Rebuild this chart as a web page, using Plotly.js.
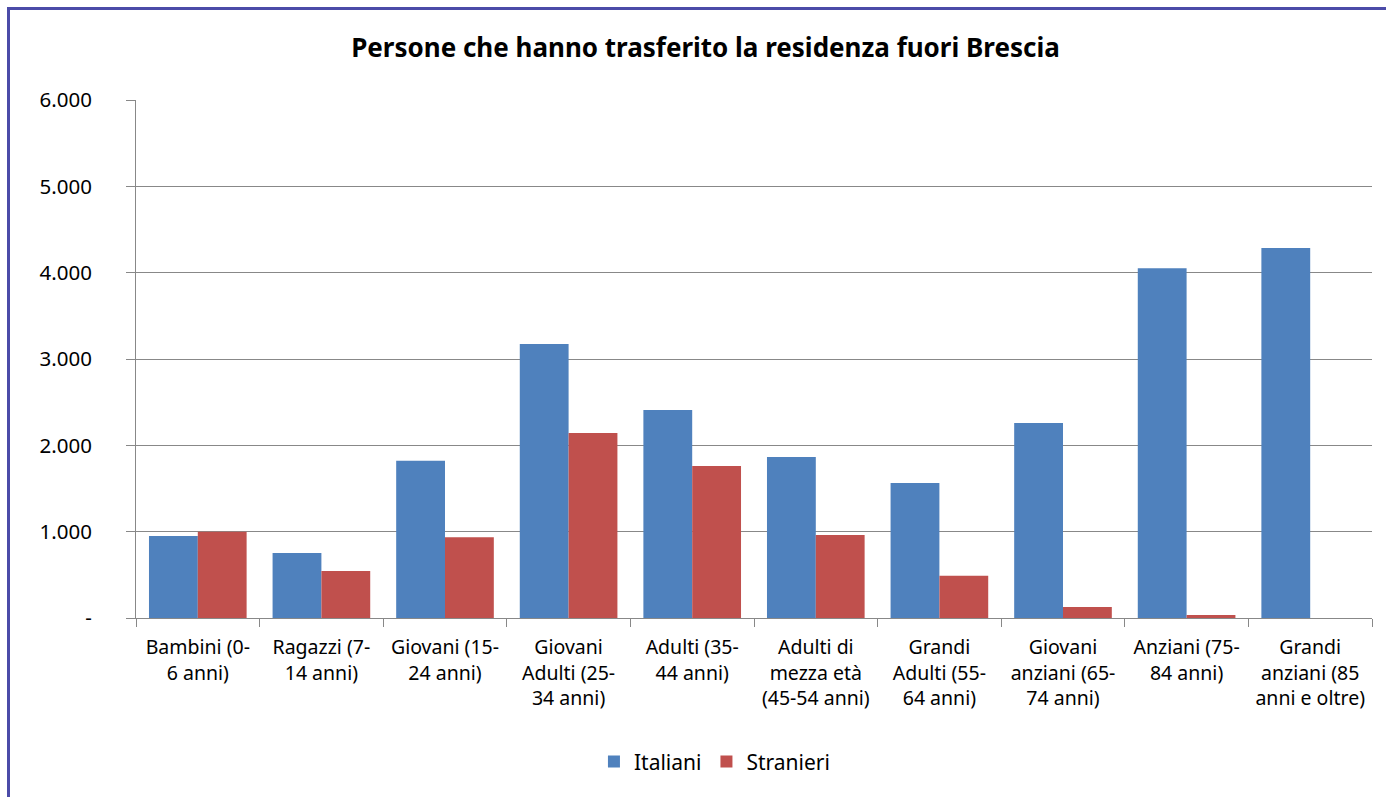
<!DOCTYPE html>
<html>
<head>
<meta charset="utf-8">
<script src="https://cdn.plot.ly/plotly-3.0.1.min.js"></script>
<style>
html,body{margin:0;padding:0;background:#fff;}
#frame{position:absolute;left:7px;top:7px;width:1379px;height:790px;border-left:3px solid #4b4ba8;border-top:3px solid #4b4ba8;box-sizing:border-box;}
#chart{position:absolute;left:0;top:0;width:1386px;height:797px;}
</style>
</head>
<body>
<div id="chart"></div>
<div id="frame"></div>
<script>
const categories = [
  "Bambini (0-<br>6 anni)",
  "Ragazzi (7-<br>14 anni)",
  "Giovani (15-<br>24 anni)",
  "Giovani<br>Adulti (25-<br>34 anni)",
  "Adulti (35-<br>44 anni)",
  "Adulti di<br>mezza età<br>(45-54 anni)",
  "Grandi<br>Adulti (55-<br>64 anni)",
  "Giovani<br>anziani (65-<br>74 anni)",
  "Anziani (75-<br>84 anni)",
  "Grandi<br>anziani (85<br>anni e oltre)"
];
const italiani = [949, 754, 1820, 3175, 2410, 1866, 1564, 2260, 4050, 4287];
const stranieri = [1000, 543, 934, 2144, 1761, 962, 490, 127, 36, 0];
const yTickVals = [0, 1000, 2000, 3000, 4000, 5000, 6000];
const yTickText = ["-", "1.000", "2.000", "3.000", "4.000", "5.000", "6.000"];

const font = "Noto Sans, DejaVu Sans, sans-serif";
const data = [
  {type:"bar", name:"Italiani", x:categories, y:italiani,
   marker:{color:"#4f81bd", line:{width:0}}},
  {type:"bar", name:"Stranieri", x:categories, y:stranieri,
   marker:{color:"#c0504d", line:{width:0}}}
];
const layout = {
  width:1386, height:797,
  margin:{l:136, r:14, t:100, b:179},
  paper_bgcolor:"#ffffff", plot_bgcolor:"#ffffff",
  title:{text:"<b>Persone che hanno trasferito la residenza fuori Brescia</b>",
         font:{family:font, size:26, color:"#000"}, x:0.509, xanchor:"center", y:0.94, yanchor:"middle"},
  bargap:0.21, bargroupgap:0,
  showlegend:true,
  legend:{orientation:"h", x:0.468, xanchor:"center", y:-0.238, yanchor:"top",
          font:{family:font, size:21, color:"#000"}, itemwidth:30, tracegroupgap:0},
  xaxis:{type:"category", tickson:"boundaries", ticks:"outside", ticklen:8, tickcolor:"#888",
         showline:true, linecolor:"#888", linewidth:1, showgrid:false,
         tickfont:{family:font, size:19.5, color:"#000"}, tickangle:0, ticklabelstandoff:12},
  yaxis:{range:[0,6000], tickvals:yTickVals, ticktext:yTickText, ticks:"outside", ticklen:9,
         tickcolor:"#888", showline:true, linecolor:"#888", linewidth:1,
         showgrid:true, gridcolor:"#888", gridwidth:1, zeroline:false,
         tickfont:{family:font, size:20.5, color:"#000"}, ticklabelstandoff:30}
};
Plotly.newPlot("chart", data, layout, {displayModeBar:false, staticPlot:true});
</script>
</body>
</html>
